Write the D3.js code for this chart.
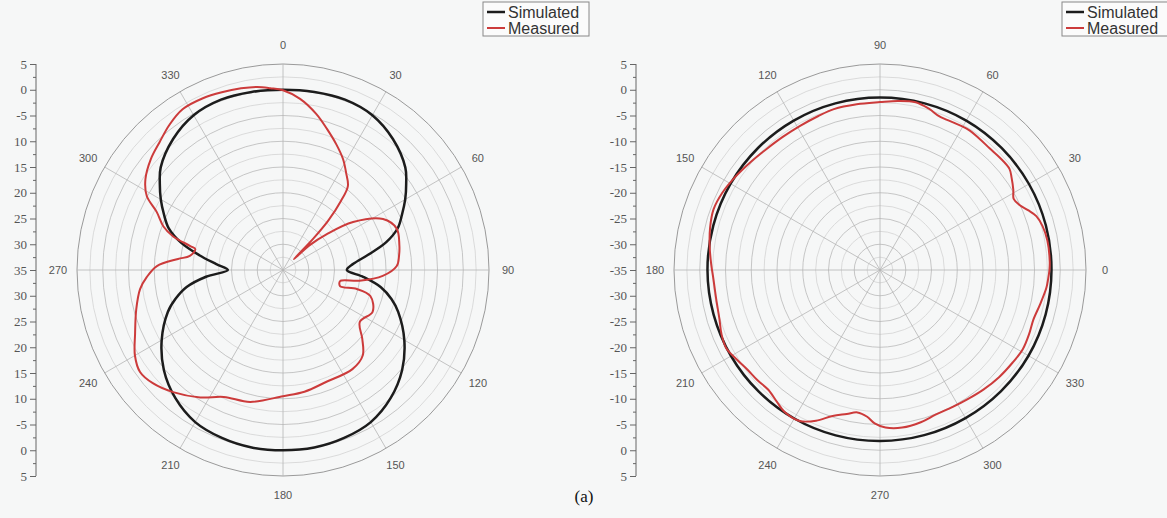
<!DOCTYPE html>
<html>
<head>
<meta charset="utf-8">
<script src="https://cdn.jsdelivr.net/npm/d3@7"></script>
<style>
  body { margin: 0; background: #f6f7f7; }
  svg { display: block; }
</style>
</head>
<body>
<svg id="chart" width="1167" height="518"></svg>
<script>
// ---------------- data ----------------
const seriesNames = ["Simulated", "Measured"];

// radial axis (dB); centre of each disc is -35 dB, rim is +5 dB
const radialDomain = [-35, 5];
const radialTicksUpper = [5, 0, -5, -10, -15, -20, -25, -30, -35];
const radialTicksLower = [-30, -25, -20, -15, -10, -5, 0, 5];
const leftRadialLabelsUpper = ["5", "0", "-5", "10", "15", "20", "25", "30", "35"];
const leftRadialLabelsLower = ["30", "25", "20", "15", "10", "-5", "0", "5"];
const rightRadialLabelsUpper = ["5", "0", "-5", "-10", "-15", "-20", "-25", "-30", "-35"];
const rightRadialLabelsLower = ["-30", "-25", "-20", "-15", "-10", "-5", "0", "5"];

// angular ticks (degrees)
const angleTicks = [0, 30, 60, 90, 120, 150, 180, 210, 240, 270, 300, 330];

// left pattern: angle clockwise from top
const leftSimAngle = [0, 10, 20, 30, 40, 50, 55, 60, 65, 70, 75, 80, 85, 90, 95, 100, 105, 110, 120, 130, 140, 150, 160, 170,
  180, 190, 200, 210, 220, 230, 240, 250, 255, 260, 265, 270, 275, 280, 285, 290, 295, 300, 305, 310, 320, 330, 340, 350];
const leftSimDb = [0, 0.1, 0.2, -0.3, -1.8, -4, -5.8, -7.6, -9.5, -11.3, -14.3, -18.3, -21.3, -22.6, -19.3, -15.7, -13.2, -11.2, -7.8, -4.8, -2.5, -0.9, -0.3, 0,
  0, 0, -0.3, -0.9, -2.5, -4.8, -7.8, -11.2, -13.4, -16, -20, -24.3, -22, -18.5, -14.5, -11.4, -9.5, -7.6, -5.8, -4, -1.8, -0.3, 0.2, 0.1];

const leftMeasAngle = [0, 5.7, 12, 17.3, 23, 28.4, 33, 37.7, 40, 42.5, 44, 45, 47, 50.7, 55.6, 63, 70, 78, 83, 88, 93.4, 98, 101, 105.7, 104.4, 106.6,
  115, 124, 131, 137, 145, 159, 170, 180, 194, 205, 213, 222, 229, 234.5, 240, 246.6, 255, 262.4, 267, 271.8, 276, 278.6, 283.4, 284.5,
  287, 290, 294.7, 298.5, 303.4, 310, 316, 322, 328, 335, 341, 347, 352, 356];
const leftMeasDb = [-0.1, -1.6, -4, -6.3, -8.5, -10.5, -12.5, -14.4, -17.5, -22, -26.6, -32, -28, -24, -18.5, -13.2, -11.5, -11.9, -12.3, -12.9, -15.6, -20, -23.7, -23.5, -20.2, -17.3,
  -15.8, -17, -14.6, -12.3, -11.5, -11.7, -11, -10.5, -8.6, -7.8, -5.5, -3.1, -1.5, -0.9, -1.8, -3.7, -5.5, -7, -8.5, -10.5, -14.5, -16.7, -17.5, -16.4,
  -12.7, -10.3, -8, -4.9, -3, -1.5, -0.5, 0.8, 1.8, 1.8, 1.5, 1.2, 0.9, 0.4];

// right pattern: angle counter-clockwise from the right
const rightSimAngle = [0, 15, 30, 45, 60, 75, 90, 105, 120, 135, 150, 165, 180, 195, 210, 225, 240, 255, 270, 285, 300, 315, 330, 345];
const rightSimDb = [-1.7, -1.65, -1.6, -1.55, -1.5, -1.5, -1.5, -1.5, -1.5, -1.5, -1.5, -1.5, -1.5, -1.55, -1.6, -1.65, -1.7, -1.75, -1.8, -1.8, -1.8, -1.75, -1.7, -1.7];

const rightMeasAngle = [0, 3, 10, 15, 19, 22, 25, 28, 31, 35, 38, 43, 48, 53, 58, 63, 69, 73, 78, 84, 90, 98, 106, 112, 119, 126, 133, 140, 148, 154,
  160, 166, 172, 178, 183, 190, 197, 202, 207, 212, 217, 222, 227, 232, 236, 242, 247, 252, 257, 261, 265, 268, 272, 278, 285, 291, 298,
  304, 311, 318, 325, 331, 337, 342, 348, 354, 357];
const rightMeasDb = [-2.1, -2.0, -2.0, -2.3, -2.9, -4.0, -5.1, -5.6, -4.8, -3.8, -3.1, -3.1, -3.2, -3.0, -2.8, -3.0, -3.0, -2.3, -1.7, -2.0, -2.4, -2.5, -2.5, -2.8, -3.0, -3.0, -2.8, -2.3, -1.5, -0.9,
  -0.6, -1.0, -1.6, -2.2, -2.6, -2.7, -2.4, -1.8, -1.5, -2.2, -2.8, -3.0, -3.2, -2.5, -1.8, -1.8, -3.2, -5.2, -6.3, -7.0, -6.4, -5.2, -4.4, -4.1, -4.4, -4.9, -4.9,
  -4.7, -4.3, -3.9, -3.6, -3.3, -3.5, -3.7, -3.2, -2.5, -2.3];

// ---------------- drawing ----------------
const svg = d3.select("#chart");
const R = 206;
const colors = { sim: "#1c1c1c", meas: "#cc3b3b" };
const toRad = d => d * Math.PI / 180;

function zip(a, b) { return a.map((v, i) => ({ ang: v, db: b[i] })); }

// orient: "cw0top" -> 0 at top, clockwise; "ccw0right" -> 0 at right, counter-clockwise
function drawPolar(opt) {
  const { cx, cy, axisX, orient, labelsUpper, labelsLower, sim, meas, legendX } = opt;
  const r = d3.scaleLinear().domain(radialDomain).range([0, R]);
  // d3 radial angle is clockwise from 12 o'clock
  const screenAngle = orient === "cw0top" ? (a => a) : (a => 90 - a);

  const g = svg.append("g").attr("transform", `translate(${cx},${cy})`);

  // concentric grid every 2.5 dB (minor) and 5 dB (major)
  const rings = d3.range(-32.5, 5.01, 2.5);
  g.selectAll("circle.ring").data(rings).join("circle")
    .attr("r", d => r(d))
    .attr("fill", "none")
    .attr("stroke", d => d === 5 ? "#9a9a9a" : (Math.abs(d % 5) < 1e-6 ? "#b9b9b9" : "#d3d3d3"))
    .attr("stroke-width", d => d === 5 ? 1 : 0.8);

  // spokes
  g.selectAll("line.spoke").data(angleTicks).join("line")
    .attr("x1", 0).attr("y1", 0)
    .attr("x2", d => R * Math.sin(toRad(screenAngle(d))))
    .attr("y2", d => -R * Math.cos(toRad(screenAngle(d))))
    .attr("stroke", "#b5b5b5").attr("stroke-width", 0.8);

  // angle labels
  g.selectAll("text.ang").data(angleTicks).join("text")
    .attr("x", d => (R + 19) * Math.sin(toRad(screenAngle(d))))
    .attr("y", d => -(R + 19) * Math.cos(toRad(screenAngle(d))))
    .attr("text-anchor", "middle")
    .attr("dominant-baseline", "central")
    .attr("font-family", "Liberation Sans, Arial, sans-serif")
    .attr("font-size", 11)
    .attr("fill", "#555")
    .text(d => d);

  // pattern curves
  const line = d3.lineRadial()
    .angle(d => toRad(screenAngle(d.ang)))
    .radius(d => r(d.db))
    .curve(d3.curveCatmullRomClosed.alpha(0.5));

  g.append("path").datum(sim).attr("d", line)
    .attr("fill", "none").attr("stroke", colors.sim).attr("stroke-width", 2.5);
  g.append("path").datum(meas).attr("d", line)
    .attr("fill", "none").attr("stroke", colors.meas).attr("stroke-width", 2);

  // radial axis on the left: upper half and mirrored lower half
  const yUp = d3.scaleLinear().domain(radialDomain).range([cy, cy - R]);
  const yDn = d3.scaleLinear().domain(radialDomain).range([cy, cy + R]);
  const ax = svg.append("g").attr("transform", `translate(${axisX},0)`);
  const styleAxis = sel => {
    sel.select(".domain").remove();
    sel.selectAll("line").attr("stroke", "#666");
    sel.selectAll("text").attr("font-family", "Liberation Serif, Times New Roman, serif")
      .attr("font-size", 13).attr("fill", "#555");
  };
  ax.append("g").call(d3.axisLeft(yUp).tickValues(radialTicksUpper).tickSize(6).tickPadding(3)
    .tickFormat((d, i) => labelsUpper[i])).call(styleAxis);
  ax.append("g").call(d3.axisLeft(yDn).tickValues(radialTicksLower).tickSize(6).tickPadding(3)
    .tickFormat((d, i) => labelsLower[i])).call(styleAxis);
  const minor = d3.range(-32.5, 5, 5);
  ax.append("g").call(d3.axisLeft(yUp).tickValues(minor).tickSize(3).tickFormat("")).call(styleAxis);
  ax.append("g").call(d3.axisLeft(yDn).tickValues(minor).tickSize(3).tickFormat("")).call(styleAxis);
  ax.append("line").attr("x1", 0).attr("x2", 0).attr("y1", cy - R).attr("y2", cy + R)
    .attr("stroke", "#666").attr("stroke-width", 1);

  // legend
  const lg = svg.append("g").attr("transform", `translate(${legendX},2)`);
  lg.append("rect").attr("x", 0).attr("y", 0).attr("width", 106).attr("height", 34)
    .attr("fill", "#fbfbfb").attr("stroke", "#888").attr("stroke-width", 1);
  const rows = [{ name: seriesNames[0], c: colors.sim, w: 2.5 }, { name: seriesNames[1], c: colors.meas, w: 2 }];
  rows.forEach((row, i) => {
    const y = 10 + i * 16;
    lg.append("line").attr("x1", 4).attr("x2", 22).attr("y1", y).attr("y2", y)
      .attr("stroke", row.c).attr("stroke-width", row.w);
    lg.append("text").attr("x", 25).attr("y", y).attr("dominant-baseline", "central")
      .attr("font-family", "Liberation Sans, Arial, sans-serif").attr("font-size", 16)
      .attr("fill", "#333").text(row.name);
  });
}

drawPolar({
  cx: 283, cy: 270, axisX: 36, orient: "cw0top",
  labelsUpper: leftRadialLabelsUpper, labelsLower: leftRadialLabelsLower,
  sim: zip(leftSimAngle, leftSimDb), meas: zip(leftMeasAngle, leftMeasDb),
  legendX: 483
});
drawPolar({
  cx: 880, cy: 270, axisX: 636, orient: "ccw0right",
  labelsUpper: rightRadialLabelsUpper, labelsLower: rightRadialLabelsLower,
  sim: zip(rightSimAngle, rightSimDb), meas: zip(rightMeasAngle, rightMeasDb),
  legendX: 1062
});

// panel caption
svg.append("text").attr("x", 584).attr("y", 502).attr("text-anchor", "middle")
  .attr("font-family", "Liberation Serif, Times New Roman, serif").attr("font-size", 17)
  .attr("fill", "#111").text("(a)");
</script>
</body>
</html>
